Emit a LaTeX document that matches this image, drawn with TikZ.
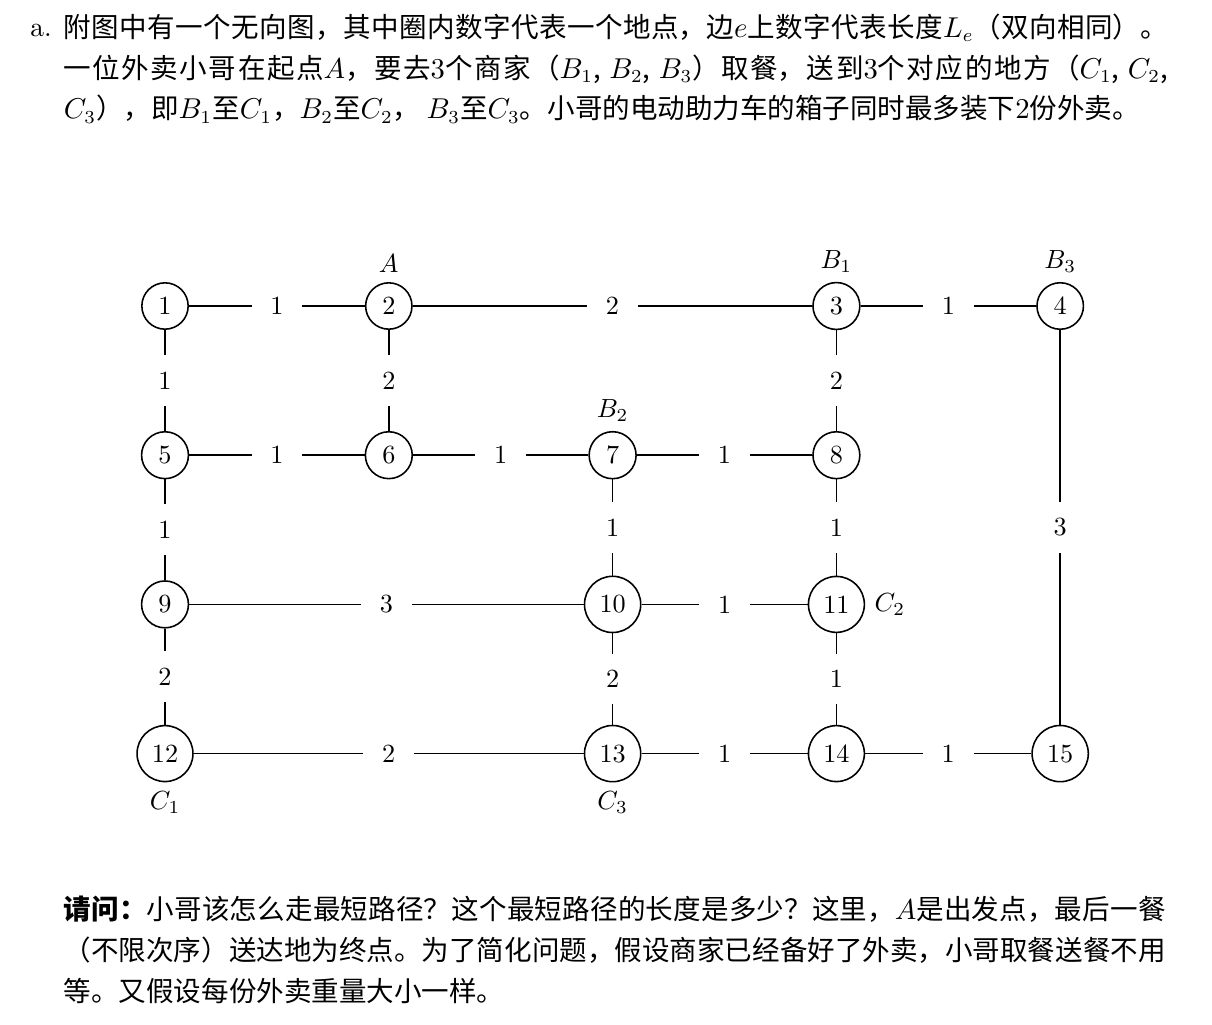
\documentclass[tikz,border=0pt]{standalone}
\usepackage{fontspec}
\newfontfamily\cjk{Noto Sans CJK SC}
\XeTeXlinebreaklocale "zh"
\XeTeXlinebreakskip=0pt plus 1pt minus 0.4pt
\begin{document}
\begin{tikzpicture}[semithick,
		spot/.style={draw, circle},
		len/.style={fill=white, inner sep=0pt, minimum size=0.68cm},
		para/.style={anchor=north west, inner sep=0pt, align=justify, font=\fontsize{10.5}{15.6}\selectfont\cjk}]
		
		\useasboundingbox (-2.212,-9.625) rectangle (14.035,4.102);
		
		% 1. Question (top)
		\node[para, text width=14.8cm] (intro) at (-1.367,3.93) {附图中有一个无向图，其中圈内数字代表一个地点，边$e$上数字代表长度$L_e$（双向相同）。\linebreak
			一位外卖小哥在起点$A$，要去$3$个商家（$B_1$, $B_2$, $B_3$）取餐，送到$3$个对应的地方（$C_1$, $C_2$,\linebreak
			$C_3$），即$B_1$至$C_1$，$B_2$至$C_2$， $B_3$至$C_3$。小哥的电动助力车的箱子同时最多装下$2$份外卖。};
		\node[para, anchor=north east, xshift=-4pt] (item) at (intro.north west) {\vphantom{附}\rmfamily a.};
		
		% 2. Places (row by row)
		\node[spot] (n1) at (0,0) {1};
		\node[spot, label=above:$A$] (n2) at (3,0) {2};
		\node[spot, label=above:$B_1$] (n3) at (9,0) {3};
		\node[spot, label=above:$B_3$] (n4) at (12,0) {4};
		\node[spot] (n5) at (0,-2) {5};
		\node[spot] (n6) at (3,-2) {6};
		\node[spot, label=above:$B_2$] (n7) at (6,-2) {7};
		\node[spot] (n8) at (9,-2) {8};
		\node[spot] (n9) at (0,-4) {9};
		\node[spot] (n10) at (6,-4) {10};
		\node[spot, label=right:$C_2$] (n11) at (9,-4) {11};
		\node[spot, label=below:$C_1$] (n12) at (0,-6) {12};
		\node[spot, label=below:$C_3$] (n13) at (6,-6) {13};
		\node[spot] (n14) at (9,-6) {14};
		\node[spot] (n15) at (12,-6) {15};
		
		% 3. Roads with their lengths
		\draw (n1) -- node[len] {1} (n2) -- node[len] {2} (n3) -- node[len] {1} (n4);
		\draw (n1) -- node[len] {1} (n5);
		\draw (n2) -- node[len] {2} (n6);
		\draw (n3) -- node[len] {2} (n8);
		\draw (n4) -- node[len] {3} (n15);
		\draw (n5) -- node[len] {1} (n6) -- node[len] {1} (n7) -- node[len] {1} (n8);
		\draw (n5) -- node[len] {1} (n9);
		\draw (n7) -- node[len] {1} (n10);
		\draw (n8) -- node[len] {1} (n11);
		\draw (n9) -- node[len] {3} (n10) -- node[len] {1} (n11);
		\draw (n9) -- node[len] {2} (n12);
		\draw (n10) -- node[len] {2} (n13);
		\draw (n11) -- node[len] {1} (n14);
		\draw (n12) -- node[len] {2} (n13) -- node[len] {1} (n14) -- node[len] {1} (n15);
		
		% 4. Question (bottom)
		\node[para, text width=14.77cm] (ask) at (-1.367,-7.895) {{\bfseries 请问：}小哥该怎么走最短路径？这个最短路径的长度是多少？这里，$A$是出发点，最后一餐\linebreak
			（不限次序）送达地为终点。为了简化问题，假设商家已经备好了外卖，小哥取餐送餐不用\linebreak
			等。又假设每份外卖重量大小一样。};
		
	\end{tikzpicture}
\end{document}
